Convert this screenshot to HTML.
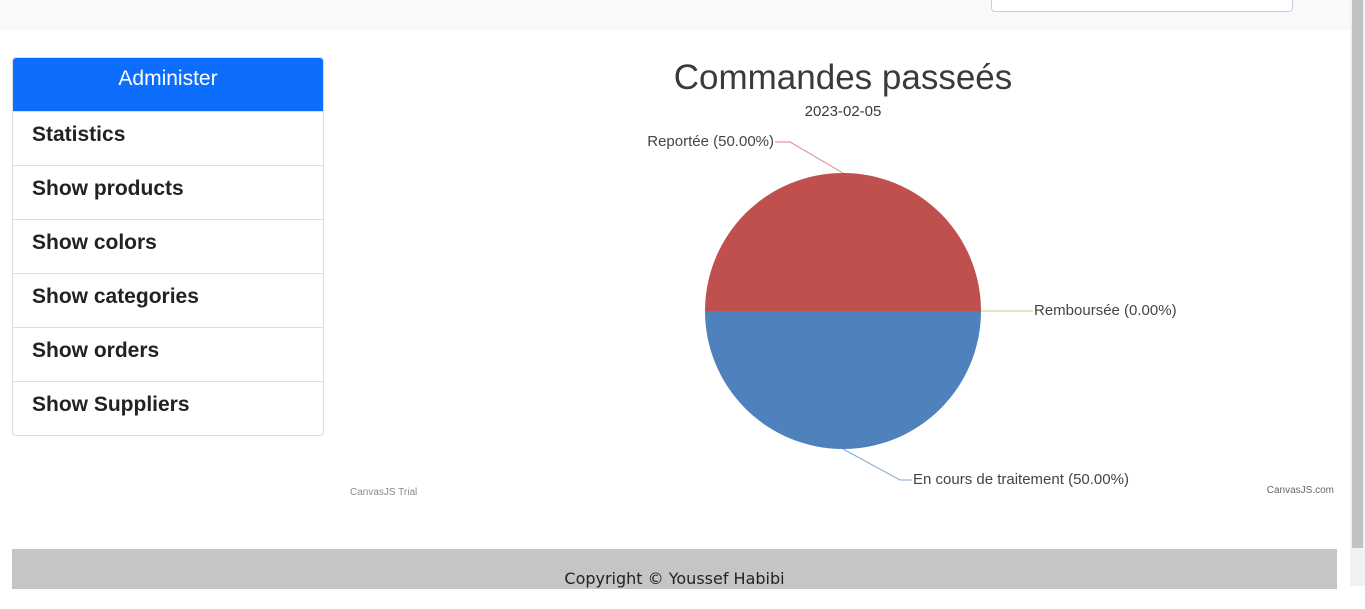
<!DOCTYPE html>
<html><head><meta charset="utf-8"><style>
body{margin:0;width:1365px;height:586px;overflow:hidden;background:#fff;font-family:"Liberation Sans",sans-serif;position:relative}
.top{position:absolute;left:0;top:0;width:1350px;height:30px;background:#f8f9fa}
.search{position:absolute;left:991px;top:-5px;width:300px;height:15px;border:1px solid #ccd;border-radius:4px;background:#fff}
.sb{position:absolute;left:1350px;top:0;width:15px;height:586px;background:#f1f1f1}
.sb div{position:absolute;left:2px;top:0;width:11px;height:548px;background:#c1c1c1}
.menu{position:absolute;left:12px;top:57px;width:310px;border:1px solid #ddd;border-radius:4px;overflow:hidden;font-family:"Liberation Sans",sans-serif}
.menu .h{background:#0d6efd;color:#fff;text-align:center;height:53px;line-height:42px;font-size:21px;font-weight:500}
.menu .i{height:53px;border-top:1px solid #ddd;line-height:46px;padding-left:19px;font-size:21px;color:#222;font-weight:bold}
.foot{position:absolute;left:12px;top:549px;width:1325px;height:40px;background:#c4c5c7;text-align:center;font-family:"DejaVu Sans",sans-serif;font-size:16px;color:#222;line-height:60px}
</style></head><body>
<div class="top"><div class="search"></div></div>
<div class="sb"><div></div></div>
<div class="menu">
<div class="h">Administer</div>
<div class="i">Statistics</div>
<div class="i">Show products</div>
<div class="i">Show colors</div>
<div class="i">Show categories</div>
<div class="i">Show orders</div>
<div class="i">Show Suppliers</div>
</div>
<svg id="chart" style="position:absolute;left:0;top:0" width="1350" height="549">
<text x="843" y="89" text-anchor="middle" font-size="35" fill="#3a3a3a">Commandes passeés</text>
<text x="843" y="116" text-anchor="middle" font-size="15" fill="#3a3a3a">2023-02-05</text>
<text x="350" y="495" font-size="10" fill="#888">CanvasJS Trial</text>
<text x="1334" y="493" text-anchor="end" font-size="10" fill="#666">CanvasJS.com</text>
<g id="slices"></g>
</svg>
<div class="foot">Copyright © Youssef Habibi</div>
<script>
const labels=["En cours de traitement","Reportée","Remboursée"];
const values=[50,50,0];
const colors=["#4f81bc","#c0504e","#9bbb58"];
const cx=843,cy=311,R=138;
const g=document.getElementById('slices');
const NS="http://www.w3.org/2000/svg";
const total=values.reduce((a,b)=>a+b,0);
let a0=0;
values.forEach((v,i)=>{
  const a1=a0+v/total*2*Math.PI;
  if(v>0){
    const p=document.createElementNS(NS,'path');
    const large=(a1-a0)>Math.PI?1:0;
    p.setAttribute('d',`M${cx},${cy} L${cx+R*Math.cos(a0)},${cy+R*Math.sin(a0)} A${R},${R} 0 ${large} 1 ${cx+R*Math.cos(a1)},${cy+R*Math.sin(a1)} Z`);
    p.setAttribute('fill',colors[i]);
    
    
    g.appendChild(p);
  }
  const m=(a0+a1)/2, c=Math.cos(m), s=Math.sin(m);
  const x1=cx+R*c,y1=cy+R*s;
  const x2=cx+(R+40)*c+(Math.abs(c)<0.1?(s>0?57:-53):0), y2=cy+(R+31)*s;
  const right=x2>=cx;
  const x3=x2+(right?12:-15);
  const l=document.createElementNS(NS,'polyline');
  l.setAttribute('points',`${x1},${y1} ${x2},${y2} ${x3},${y2}`);
  l.setAttribute('fill','none');l.setAttribute('stroke',colors[i]);l.setAttribute('stroke-opacity','0.7');
  
  
  g.appendChild(l);
  const t=document.createElementNS(NS,'text');
  t.setAttribute('x',x3+(right?1:-1));t.setAttribute('y',y2+4);
  t.setAttribute('text-anchor',right?'start':'end');t.setAttribute('font-size','15');t.setAttribute('fill','#444');
  t.textContent=labels[i]+' ('+(v/total*100).toFixed(2)+'%)';
  
  
  g.appendChild(t);
  a0=a1;
});
</script>
</body></html>
